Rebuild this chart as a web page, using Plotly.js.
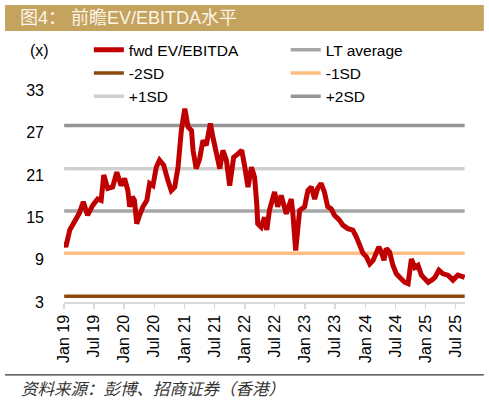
<!DOCTYPE html>
<html>
<head>
<meta charset="utf-8">
<script src="https://cdn.plot.ly/plotly-3.0.1.min.js"></script>
<style>
html,body{margin:0;padding:0;background:#fff;}
#chart{width:489px;height:403px;}
</style>
</head>
<body>
<div id="chart"></div>
<script>
// ---- data ----
const dates = [
'2019-01-02','2019-01-12','2019-02-05','2019-03-05','2019-04-04','2019-04-28','2019-05-24','2019-06-24','2019-07-24','2019-08-14',
'2019-08-30','2019-09-23','2019-10-23','2019-11-17','2019-12-13','2020-01-03','2020-01-23','2020-02-03','2020-02-19','2020-03-03',
'2020-03-17','2020-04-03','2020-04-23','2020-05-17','2020-06-03','2020-06-23','2020-07-13','2020-08-02','2020-08-27','2020-09-22',
'2020-10-12','2020-11-02','2020-11-22','2020-12-12','2021-01-02','2021-01-22','2021-02-12','2021-02-21','2021-03-12','2021-04-02',
'2021-04-22','2021-05-12','2021-06-06','2021-06-21','2021-07-12','2021-08-02','2021-08-21','2021-09-11','2021-10-01','2021-10-25',
'2021-11-20','2021-12-13','2022-01-01','2022-01-20','2022-02-10','2022-03-01','2022-03-14','2022-03-20','2022-04-10','2022-04-30',
'2022-05-14','2022-05-30','2022-06-30','2022-07-19','2022-08-09','2022-09-09','2022-10-09','2022-10-19','2022-11-05','2022-11-17',
'2022-11-29','2022-12-29','2023-01-18','2023-02-08','2023-02-28','2023-03-18','2023-04-08','2023-04-28','2023-05-18','2023-06-08',
'2023-06-28','2023-07-28','2023-08-18','2023-09-17','2023-10-17','2023-11-08','2023-11-28','2023-12-18','2024-01-08','2024-01-28',
'2024-02-17','2024-03-08','2024-03-23','2024-04-07','2024-04-23','2024-05-07','2024-05-27','2024-06-16','2024-07-07','2024-07-27',
'2024-08-26','2024-09-16','2024-10-06','2024-10-26','2024-11-15','2024-12-06','2024-12-26','2025-01-16','2025-02-06','2025-02-26',
'2025-03-22','2025-04-16','2025-05-16','2025-06-15','2025-07-15','2025-08-11','2025-08-25'
];
const fwdEvEbitda = [
11.5,10.8,13.2,14.3,15.6,17.2,15.3,16.7,17.6,17.4,
21.0,19.1,19.3,21.4,19.5,20.5,18.8,16.5,17.9,17.4,
14.1,15.3,16.5,17.4,19.8,19.5,22.1,23.1,22.4,20.2,
18.8,19.3,22.1,27.3,30.4,27.8,27.3,24.5,21.9,23.3,
25.9,25.2,28.3,26.4,23.8,21.9,24.5,23.1,19.5,23.5,
24.0,24.5,22.1,19.3,22.1,20.7,16.9,14.1,13.6,15.0,
13.2,16.0,18.6,16.5,18.1,15.5,17.6,15.5,10.3,13.5,
16.0,16.5,18.8,19.3,17.6,19.1,19.8,18.6,16.5,16.2,
15.3,14.6,13.9,13.4,13.2,12.2,10.8,9.9,9.4,8.4,
8.9,9.9,10.8,10.1,8.9,10.6,10.1,8.2,7.0,6.5,
5.8,5.6,9.1,7.9,8.2,6.8,6.3,5.8,6.1,6.5,
7.5,7.0,6.8,6.1,6.8,6.6,6.5
];
const ltAverage = 15.9;
const minus2SD = 3.8;
const minus1SD = 9.9;
const plus1SD = 21.9;
const plus2SD = 28.0;
const yTickVals = [3, 9, 15, 21, 27, 33];

const title = '图4：&nbsp;前瞻EV/EBITDA水平';
const source = '资料来源：彭博、招商证券（香港）';

// ---- chart ----
const xSpan = [dates[0], dates[dates.length - 1]];
function flat(name, v, color, rank, leg) {
  return {x: xSpan, y: [v, v], type: 'scatter', mode: 'lines', name: name, legendrank: rank,
          legend: leg, line: {color: color, width: 3.5}, hoverinfo: 'skip'};
}
const traces = [
  flat('LT average', ltAverage, '#A6A6A6', 1, 'legend2'),
  flat('-2SD', minus2SD, '#8B4A0A', 2, 'legend'),
  flat('-1SD', minus1SD, '#FFBE82', 2, 'legend2'),
  flat('+1SD', plus1SD, '#D0D0D0', 3, 'legend'),
  flat('+2SD', plus2SD, '#959595', 3, 'legend2'),
  {x: dates, y: fwdEvEbitda, type: 'scatter', mode: 'lines', name: 'fwd EV/EBITDA', legendrank: 1,
   legend: 'legend', line: {color: '#C00000', width: 5}}
];

const F = 'Liberation Sans, Arial, Noto Sans CJK SC, sans-serif';
const legBase = {orientation: 'v', y: 1.058, xanchor: 'left', yanchor: 'top',
                 traceorder: 'normal', font: {family: F, size: 15.5, color: '#000'},
                 bgcolor: 'rgba(0,0,0,0)', itemwidth: 30};
const layout = {
  width: 489, height: 403,
  margin: {l: 64, r: 24, t: 48, b: 101},
  paper_bgcolor: '#fff', plot_bgcolor: '#fff',
  font: {family: F, size: 15, color: '#000'},
  showlegend: true,
  legend: Object.assign({}, legBase, {x: 0.062}),
  legend2: Object.assign({}, legBase, {x: 0.553}),
  xaxis: {type: 'date', range: ['2019-01-01', '2025-08-27'],
          tick0: '2019-01-01', dtick: 'M6', tickformat: '%b %y', tickangle: -90,
          showgrid: false, zeroline: false, showline: true, linecolor: '#D9D9D9', linewidth: 1.5,
          ticks: 'outside', ticklen: 5, tickcolor: '#D9D9D9', tickwidth: 1.5,
          tickfont: {family: F, size: 16, color: '#000'}, fixedrange: true},
  yaxis: {range: [3, 39], tickvals: yTickVals, ticktext: yTickVals.map(String),
          showgrid: false, zeroline: false, showline: false, ticks: '',
          ticklabelstandoff: 19,
          tickfont: {family: F, size: 16, color: '#000'}, fixedrange: true},
  shapes: [
    {type: 'rect', xref: 'paper', yref: 'paper', x0: -0.147, x1: 1.047, y0: 1.067, y1: 1.169,
     fillcolor: '#C4A35E', line: {width: 0}, layer: 'above'},
    {type: 'line', xref: 'paper', yref: 'paper', x0: -0.147, x1: 1.047, y0: -0.287, y1: -0.287,
     line: {color: '#000', width: 1}}
  ],
  annotations: [
    {xref: 'paper', yref: 'paper', x: -0.115, y: 1.118, xanchor: 'left', yanchor: 'middle',
     text: title, showarrow: false, font: {family: F, size: 18, color: '#FBF4E8'}},
    {xref: 'paper', yref: 'paper', x: -0.112, y: -0.339, xanchor: 'left', yanchor: 'middle',
     text: '<i>' + source + '</i>', showarrow: false,
     font: {family: 'Noto Sans CJK SC, sans-serif', size: 16.5, color: '#333'}},
    {xref: 'paper', yref: 'paper', x: -0.06, y: 0.992, xanchor: 'center', yanchor: 'middle',
     text: '(x)', showarrow: false, font: {family: F, size: 16, color: '#000'}}
  ]
};
Plotly.newPlot('chart', traces, layout, {displayModeBar: false, staticPlot: true});
</script>
</body>
</html>
